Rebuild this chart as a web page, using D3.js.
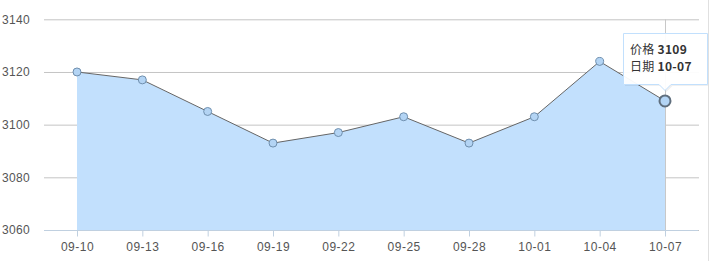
<!DOCTYPE html>
<html><head><meta charset="utf-8">
<script src="https://cdn.jsdelivr.net/npm/d3@7/dist/d3.min.js"></script>
<style>
body{margin:0;background:#fff;}
svg{display:block;font-family:"Noto Sans CJK SC","Noto Sans",sans-serif;}
</style></head><body>
<svg id="c" width="711" height="261"></svg>
<script>
const categories = ["09-10","09-13","09-16","09-19","09-22","09-25","09-28","10-01","10-04","10-07"];
const prices = [3120,3117,3105,3093,3097,3103,3093,3103,3124,3109];
const yTicks = [3060,3080,3100,3120,3140];
const tooltipLabels = ["价格","日期"];
const hoverIndex = 9;

const svg = d3.select("#c");
const x = d3.scalePoint().domain(categories).range([77,665]);
const y = d3.scaleLinear().domain([3060,3140]).range([230,19.3]);

// grid
const gy = svg.append("g").attr("transform","translate(44,0)")
  .call(d3.axisLeft(y).tickValues(yTicks).tickSize(-655).tickPadding(14).tickFormat(d3.format("d")));
gy.select(".domain").remove();
gy.selectAll(".tick line").attr("stroke","#c4c4c4");
gy.selectAll(".tick text").attr("fill","#555").attr("font-size",12).attr("text-anchor","start").attr("x",-42).attr("letter-spacing",0.3);

// crosshair
svg.append("line").attr("x1",x(categories[hoverIndex])+0.5).attr("x2",x(categories[hoverIndex])+0.5)
  .attr("y1",y(3140)).attr("y2",230).attr("stroke","#c8c8c8");

// area
const data = categories.map((c,i)=>({c,v:prices[i]}));
svg.append("path").datum(data)
  .attr("d",d3.area().x(d=>x(d.c)).y0(y(3060)).y1(d=>y(d.v)))
  .attr("fill","#c2e0fd");
svg.append("path").datum(data)
  .attr("d",d3.line().x(d=>x(d.c)).y(d=>y(d.v)))
  .attr("fill","none").attr("stroke","#666").attr("stroke-width",1);

// x axis
const gx = svg.append("g").attr("transform","translate(0,230.5)")
  .call(d3.axisBottom(x).tickSize(6).tickPadding(6));
gx.select(".domain").attr("d","M44,0H698").attr("stroke","#c0d0e0");
gx.selectAll(".tick line").attr("stroke","#c0d0e0");
gx.selectAll(".tick text").attr("fill","#555").attr("font-size",12).attr("letter-spacing",0.5);

// points
svg.selectAll("circle.p").data(data).join("circle").attr("class","p")
  .attr("cx",d=>x(d.c)).attr("cy",d=>y(d.v))
  .attr("r",(d,i)=>i===hoverIndex?5.5:4)
  .attr("fill","#b3d4f4")
  .attr("stroke",(d,i)=>i===hoverIndex?"#5f6e7d":"#6f8fae")
  .attr("stroke-width",(d,i)=>i===hoverIndex?2:1);

// tooltip
const hx = x(categories[hoverIndex]);
const tg = svg.append("g");
const bx=623.5, by=33.5, bw=84, bh=51;
const tip = `M${bx},${by}h${bw}v${bh}h${-(bx+bw-hx-6)}l-6,6l-6,-6H${bx}Z`;
tg.append("path").attr("d",tip).attr("fill","#000").attr("opacity",0.06).attr("transform","translate(1.5,1.5)");
tg.append("path").attr("d",tip).attr("fill","#fff").attr("fill-opacity",0.95).attr("stroke","#c2e0fd").attr("stroke-width",1);
const t1 = tg.append("text").attr("x",630).attr("y",54).attr("font-size",12).attr("letter-spacing",0.3).attr("fill","#333");
t1.append("tspan").text(tooltipLabels[0]+" ");
t1.append("tspan").attr("font-weight","bold").text(prices[hoverIndex]);
const t2 = tg.append("text").attr("x",630).attr("y",71).attr("font-size",12).attr("letter-spacing",0.3).attr("fill","#333");
t2.append("tspan").text(tooltipLabels[1]+" ");
t2.append("tspan").attr("font-weight","bold").text(categories[hoverIndex]);

// right border
svg.append("line").attr("x1",708.5).attr("x2",708.5).attr("y1",0).attr("y2",261).attr("stroke","#e0e0e0");
</script></body></html>
